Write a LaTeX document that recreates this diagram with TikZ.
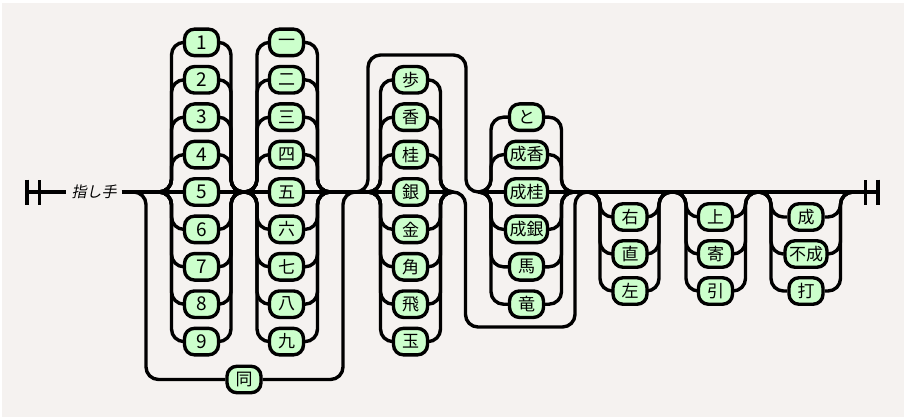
\documentclass[tikz,border=0pt]{standalone}
\usepackage{fontspec}
\setmainfont{Noto Sans CJK JP}
\newfontfamily\notefont[FakeSlant=0.2]{Noto Sans CJK JP}
\usetikzlibrary{positioning,calc}
\definecolor{rrbg}{RGB}{245,242,240}
\definecolor{rrfill}{RGB}{204,255,204}

\begin{document}
\begin{tikzpicture}[
  x=1pt, y=-1pt,
  font=\fontsize{17}{17}\selectfont,
  rail/.style={black, line width=3.4pt, rounded corners=12.5pt},
  bar/.style={black, line width=3.4pt},
  term/.style={draw=black, line width=3.4pt, fill=rrfill, rounded corners=10pt,
    minimum width=34pt, minimum height=26.5pt, inner xsep=4pt, inner ysep=0pt},
  digit/.style={term, font=\fontsize{19}{19}\selectfont},
  note/.style={font=\notefont\fontsize{15}{15}\selectfont, inner xsep=5pt, inner ysep=0pt},
]
% ---- canvas ----
\fill[white] (0,0) rectangle (906,420);
\fill[rrbg] (2,3) rectangle (904,417);
\useasboundingbox (0,0) rectangle (906,420);
% ---- junctions on the main line ----
\coordinate (begin) at (27,192);
\coordinate (Oin) at (133.5,192);
\coordinate (Ain) at (159,192);
\coordinate (Aout) at (243.5,192);
\coordinate (Bin) at (244.5,192);
\coordinate (Bout) at (330,192);
\coordinate (Oout) at (355.5,192);
\coordinate (Cin) at (368,192);
\coordinate (Cout) at (453,192);
\coordinate (Din) at (478.5,192);
\coordinate (Dout) at (574,192);
\coordinate (Ein) at (587.5,192);
\coordinate (Eout) at (671.5,192);
\coordinate (Fin) at (673.5,192);
\coordinate (Fout) at (758,192);
\coordinate (Gin) at (758.5,192);
\coordinate (Gout) at (853,192);
\coordinate (finish) at (878,192);
\coordinate (hcTop) at (466,55);
\coordinate (hcBot) at (575,327);
% ---- comment ----
\node[note] (note) at (94,192) {指し手};
% ---- boxes ----
\foreach \lbl [count=\i] in {1,2,3,4,5,6,7,8,9}
  \node[digit] (a\i) at (201.5,{192+37.4*(\i-5)}) {\lbl};
\foreach \lbl [count=\i] in {一,二,三,四,五,六,七,八,九}
  \node[term] (b\i) at (286.5,{192+37.4*(\i-5)}) {\lbl};
\node[term] (same) at (244,379.5) {同};
\foreach \lbl [count=\i] in {歩,香,桂,銀,金,角,飛,玉}
  \node[term] (c\i) at (410.5,{192+37.4*(\i-4)}) {\lbl};
\foreach \lbl [count=\i] in {と,成香,成桂,成銀,馬,竜}
  \node[term] (d\i) at (526.5,{192+37.4*(\i-3)}) {\lbl};
\foreach \lbl [count=\i] in {右,直,左}
  \node[term] (e\i) at (630,{217+37*(\i-1)}) {\lbl};
\foreach \lbl [count=\i] in {上,寄,引}
  \node[term] (f\i) at (715.5,{217+37*(\i-1)}) {\lbl};
\foreach \lbl [count=\i] in {成,不成,打}
  \node[term] (g\i) at (806,{217+37*(\i-1)}) {\lbl};
% ---- start and end ----
\draw[bar] (begin) ++(0,-12.5) -- ++(0,25) ++(12.5,0) -- ++(0,-25);
\draw[bar] (finish) ++(0,-12.5) -- ++(0,25) ++(-12.5,0) -- ++(0,-25);
\draw[rail] (begin) -- (note);
\draw[rail] (note) -- (Oin);
% ---- square: digit then kanji, or 同 ----
\draw[rail] (Oin) -- (Ain);
\draw[rail] (Ain) -- (a5) -- (Aout);
\foreach \i in {1,2,3,4,6,7,8,9} {
  \draw[rail] (Ain) -- ++(12.5,0) |- (a\i.west);
  \draw[rail] (Aout) -- ++(-12.5,0) |- (a\i.east);
}
\draw[rail] (Aout) -- (Bin);
\draw[rail] (Bin) -- (b5) -- (Bout);
\foreach \i in {1,2,3,4,6,7,8,9} {
  \draw[rail] (Bin) -- ++(12.5,0) |- (b\i.west);
  \draw[rail] (Bout) -- ++(-12.5,0) |- (b\i.east);
}
\draw[rail] (Bout) -- (Oout);
\draw[rail] (Oin) -- ++(12.5,0) |- (same.west);
\draw[rail] (Oout) -- ++(-12.5,0) |- (same.east);
% ---- piece: plain or promoted ----
\draw[rail] (Oout) -- (Cin);
\draw[rail] (Cin) -- (c4) -- (Cout);
\foreach \i in {1,2,3,5,6,7,8} {
  \draw[rail] (Cin) -- ++(12.5,0) |- (c\i.west);
  \draw[rail] (Cout) -- ++(-12.5,0) |- (c\i.east);
}
\draw[rail] (Din) -- (d3) -- (Dout);
\foreach \i in {1,2,4,5,6} {
  \draw[rail] (Din) -- ++(12.5,0) |- (d\i.west);
  \draw[rail] (Dout) -- ++(-12.5,0) |- (d\i.east);
}
\draw[rail] (Oout) -- ++(12.5,0) |- (hcTop) |- (Din);
\draw[rail] (Cout) -- ++(12.5,0) |- (hcBot) |- (Ein);
\draw[rail] (Dout) -- (Ein);
% ---- optional suffixes ----
\draw[rail] (Ein) -- (Eout) -- (Fin) -- (Fout) -- (Gin) -- (Gout) -- (finish);
\foreach \c/\lo/\hi in {e/Ein/Eout, f/Fin/Fout, g/Gin/Gout}
  \foreach \i in {1,2,3} {
    \draw[rail] (\lo) -- ++(12.5,0) |- (\c\i.west);
    \draw[rail] (\hi) -- ++(-12.5,0) |- (\c\i.east);
  }
\end{tikzpicture}
\end{document}
